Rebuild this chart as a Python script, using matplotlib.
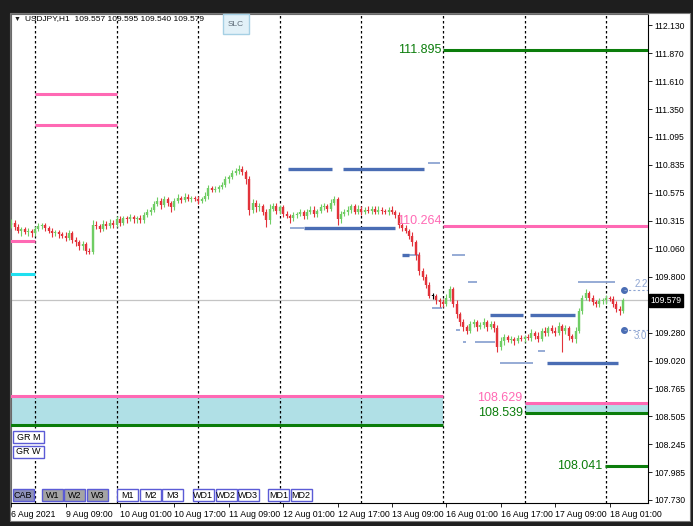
"""
USDJPY H1 - copia do grafico do MT4 (6 Aug 2021 -> 18 Aug 2021)
"""
import numpy as np
import matplotlib.pyplot as plt
from matplotlib.patches import Rectangle

plt.rcParams['font.family'] = ['Liberation Sans', 'DejaVu Sans']

W, H = 693, 526   # tamanho da figura em px

# ============ DADOS ============
first_open = 110.28
closes = [
    110.30, 110.26, 110.22, 110.24, 110.21, 110.22, 110.20, 110.24, 110.27, 110.28,
    110.25, 110.22, 110.20, 110.21, 110.19, 110.18, 110.16, 110.20, 110.14, 110.12,
    110.08, 110.10, 110.04, 110.03, 110.28, 110.27, 110.24, 110.29, 110.27, 110.30,
    110.28, 110.33, 110.30, 110.34, 110.33, 110.35, 110.33, 110.34, 110.32, 110.37,
    110.40, 110.42, 110.47, 110.50, 110.46, 110.52, 110.48, 110.44, 110.50, 110.53,
    110.51, 110.54, 110.52, 110.53, 110.52, 110.50, 110.52, 110.55, 110.62, 110.60,
    110.61, 110.63, 110.65, 110.70, 110.72, 110.76, 110.78, 110.80, 110.77, 110.70,
    110.42, 110.48, 110.44, 110.45, 110.40, 110.32, 110.43, 110.45, 110.41, 110.44,
    110.38, 110.36, 110.34, 110.37, 110.38, 110.40, 110.36, 110.40, 110.42, 110.38,
    110.41, 110.44, 110.45, 110.43, 110.48, 110.52, 110.33, 110.38, 110.40, 110.42,
    110.45, 110.40, 110.43, 110.40, 110.42, 110.41, 110.43, 110.40, 110.42, 110.41,
    110.40, 110.42, 110.40, 110.37, 110.28, 110.25, 110.22, 110.18, 110.12, 110.00,
    109.85, 109.80, 109.72, 109.62, 109.62, 109.58, 109.56, 109.55, 109.60, 109.68,
    109.55, 109.45, 109.38, 109.33, 109.30, 109.36, 109.38, 109.33, 109.35, 109.38,
    109.33, 109.36, 109.32, 109.15, 109.20, 109.24, 109.21, 109.22, 109.20, 109.23,
    109.22, 109.24, 109.23, 109.28, 109.25, 109.22, 109.30, 109.28, 109.32, 109.30,
    109.28, 109.34, 109.30, 109.32, 109.25, 109.22, 109.30, 109.48, 109.60, 109.65,
    109.60, 109.56, 109.55, 109.57, 109.58, 109.60, 109.59, 109.55, 109.50, 109.48,
    109.579,
]
# pavios em pips (0.01)
wick_up = [
    3, 2, 3, 2, 2, 3, 2, 3, 3, 2,   2, 2, 3, 2, 2, 2, 3, 3, 2, 3,
    2, 3, 2, 2, 4, 3, 2, 3, 2, 3,   2, 3, 3, 2, 2, 3, 2, 2, 3, 3,
    3, 2, 3, 4, 3, 3, 2, 2, 3, 3,   2, 3, 2, 2, 2, 3, 2, 3, 3, 2,
    3, 2, 3, 3, 2, 3, 3, 3, 2, 2,   3, 4, 3, 3, 2, 3, 4, 3, 3, 2,
    2, 3, 2, 3, 2, 3, 2, 3, 3, 3,   2, 3, 3, 2, 4, 3, 2, 3, 3, 3,
    2, 2, 3, 2, 2, 3, 2, 2, 3, 2,   2, 2, 3, 2, 3, 2, 3, 2, 3, 2,
    3, 3, 2, 3, 3, 2, 2, 3, 4, 3,   2, 3, 2, 3, 2, 3, 3, 2, 3, 4,
    2, 3, 3, 3, 4, 3, 2, 3, 2, 3,   3, 2, 3, 3, 2, 4, 2, 3, 2, 3,
    3, 4, 2, 3, 2, 2, 3, 3, 3, 3,   2, 3, 2, 3, 2, 3, 2, 3, 2, 3, 2,
]
wick_dn = [
    3, 3, 2, 4, 2, 3, 3, 2, 2, 3,   3, 2, 3, 2, 3, 2, 3, 2, 3, 4,
    3, 3, 3, 2, 2, 3, 3, 2, 3, 2,   3, 2, 3, 2, 3, 2, 3, 3, 2, 2,
    2, 3, 2, 2, 3, 2, 3, 4, 2, 2,   3, 2, 2, 3, 2, 3, 2, 2, 3, 2,
    2, 3, 2, 2, 3, 2, 2, 3, 3, 4,   5, 3, 4, 3, 3, 6, 3, 2, 3, 3,
    3, 2, 4, 3, 3, 2, 3, 3, 2, 3,   3, 2, 2, 3, 2, 2, 5, 3, 2, 3,
    3, 2, 2, 3, 2, 2, 3, 2, 2, 3,   2, 3, 2, 3, 3, 3, 2, 3, 4, 5,
    4, 3, 3, 2, 3, 3, 4, 3, 2, 3,   3, 3, 4, 3, 3, 2, 3, 3, 2, 3,
    3, 2, 3, 5, 3, 3, 2, 3, 3, 2,   2, 3, 2, 3, 3, 3, 2, 3, 3, 2,
    3, 2, 20, 3, 4, 3, 4, 2, 3, 2,  3, 2, 3, 3, 2, 3, 2, 3, 3, 4, 2,
]
last_price = 109.579

price_ticks = [112.130, 111.870, 111.610, 111.350, 111.095, 110.835, 110.575,
               110.315, 110.060, 109.800, 109.540, 109.280, 109.020, 108.765,
               108.505, 108.245, 107.985, 107.730]
time_ticks = [0, 16, 32, 48, 64, 80, 96, 112, 128, 144, 160, 176]
time_labels = ['6 Aug 2021', '9 Aug 09:00', '10 Aug 01:00', '10 Aug 17:00',
               '11 Aug 09:00', '12 Aug 01:00', '12 Aug 17:00', '13 Aug 09:00',
               '16 Aug 01:00', '16 Aug 17:00', '17 Aug 09:00', '18 Aug 01:00']
day_breaks = [7, 31, 55, 79, 103, 127, 151, 175]

# niveis: (preco, barra inicial, barra final)
pink_levels = [(111.491, 7, 31), (111.204, 7, 31), (110.129, -1, 7),
               (110.264, 127, 190), (108.693, -1, 127), (108.629, 151, 190)]
green_levels = [(111.895, 127, 190), (108.425, -1, 127), (108.539, 151, 190),
                (108.041, 174.5, 190)]
cyan_levels = [(109.823, -1, 7)]
zones = [(108.425, 108.693, -1, 127), (108.539, 108.629, 151, 190)]
level_labels = [('111.895', 111.895, 126.4, 'center', 'g'),
                ('110.264', 110.258, 126.6, 'bottom', 'p'),
                ('108.629', 108.622, 150.4, 'bottom', 'p'),
                ('108.539', 108.539, 150.4, 'center', 'g'),
                ('108.041', 108.041, 173.8, 'center', 'g')]
blue_dark = [(110.796, 81.4, 94.4), (110.796, 97.6, 121.4), (110.249, 86, 113),
             (110.000, 115, 117), (109.440, 140.8, 150.5), (109.440, 152.6, 165.8),
             (109.000, 157.6, 178.5)]
blue_light = [(110.852, 122.6, 126.1), (110.249, 82, 86), (110.000, 117, 120),
              (110.000, 129.7, 133.5), (109.750, 134.4, 137), (109.510, 123.8, 126.7),
              (109.750, 166.7, 177.6), (109.194, 136.4, 142.3), (109.110, 154.9, 157),
              (109.000, 143.8, 153.5), (109.305, 130.8, 132), (109.194, 132.9, 133.8)]
markers = [('2.2', 109.675, 'bottom'), ('3.0', 109.305, 'top')]
marker_bar = 180.2
# ===============================

PINK, GREEN, CYAN = '#ff69b4', '#0b7d0b', '#1fe0f0'
BLUE, BLUE_L = '#4a6db4', '#8ea5d2'
C_UP, C_DN = '#6fcd64', '#e2323a'

fig = plt.figure(figsize=(W / 100, H / 100), dpi=100, facecolor='#1e1e1e')
# janela branca do grafico
fig.add_artist(Rectangle((10 / W, 1 - 521 / H), 680 / W, 508 / H,
                         transform=fig.transFigure, facecolor='white',
                         edgecolor='#7a7a7a', lw=0.8, zorder=-1))
ax = fig.add_axes([11 / W, 1 - 503 / H, 637 / W, 489 / H])
ax.set_xlim(-0.06, 187.29)
ax.set_ylim(107.702, 112.232)

# candles
x = np.arange(len(closes))
c = np.array(closes)
o = np.r_[first_open, c[:-1]]
hi = np.maximum(o, c) + np.array(wick_up) / 100
lo = np.minimum(o, c) - np.array(wick_dn) / 100
cols = np.where(c > o, C_UP, np.where(c < o, C_DN, 'black'))
ax.vlines(x, lo, hi, colors=cols, lw=0.8, zorder=4)
b_lo = np.minimum(o, c)
b_hi = np.maximum(np.maximum(o, c), b_lo + 0.006)
ax.vlines(x, b_lo, b_hi, colors=cols, lw=1.7, zorder=4)

# linha do preco atual
ax.axhline(last_price, color='#c4c4c4', lw=0.9, zorder=1)

# separadores de dia
for d in day_breaks:
    ax.axvline(d, color='black', lw=0.9, ls=(0, (2, 2)), zorder=2)

# zonas e niveis
for y0, y1, a, b in zones:
    ax.fill_between([a, b], y0, y1, color='#b0e0e6', lw=0, zorder=1)
for p, a, b in pink_levels:
    ax.hlines(p, a, b, color=PINK, lw=2.2, zorder=3)
for p, a, b in green_levels:
    ax.hlines(p, a, b, color=GREEN, lw=2.2, zorder=3)
for p, a, b in cyan_levels:
    ax.hlines(p, a, b, color=CYAN, lw=2.2, zorder=3)
for p, a, b in blue_light:
    ax.hlines(p, a, b, color=BLUE_L, lw=1.3, zorder=3)
for p, a, b in blue_dark:
    ax.hlines(p, a, b, color=BLUE, lw=2.4, zorder=3)
for txt, p, xb, va, k in level_labels:
    ax.text(xb, p, txt, ha='right', va=va, fontsize=9,
            color=GREEN if k == 'g' else PINK, zorder=5)

for txt, p, va in markers:
    ax.plot(marker_bar, p, 'o', ms=4, color=BLUE, zorder=5)
    ax.hlines(p, marker_bar, 190, color=BLUE_L, lw=0.8, ls=(0, (2, 2)), zorder=5)
    ax.text(183.2, p + (0.008 if va == 'bottom' else -0.008), txt, va=va,
            ha='left', fontsize=7, color=BLUE_L, zorder=5)

# eixos
for s in ['left', 'top']:
    ax.spines[s].set_color('#6a6a6a')
for s in ['right', 'bottom']:
    ax.spines[s].set_color('black')
ax.yaxis.tick_right()
ax.set_yticks(price_ticks)
# o rotulo 109.540 fica escondido atras da caixa do preco atual
ax.set_yticklabels(['' if abs(v - last_price) < 0.05 else f'{v:.3f}'
                    for v in price_ticks])
ax.tick_params(axis='y', length=3, width=0.6, labelsize=6.2, pad=1.5)
ax.set_xticks(time_ticks)
ax.set_xticklabels(time_labels, ha='left')
ax.tick_params(axis='x', length=3, width=0.6, labelsize=6.3, pad=2)
ax.text(1.004, last_price, f'{last_price:.3f}', transform=ax.get_yaxis_transform(),
        ha='left', va='center', fontsize=6.2, color='white', zorder=10,
        bbox=dict(facecolor='black', edgecolor='black', pad=1.2), clip_on=False)

# cabecalho
fig.text(14 / W, 1 - 19 / H, '\u25bc', fontsize=5, va='center', color='#202020')
fig.text(25 / W, 1 - 19 / H, 'USDJPY,H1  109.557 109.595 109.540 109.579',
         fontsize=6, va='center', color='black')


def button(x0, y0, w, h, label, face, edge='#5b5bd6', tc='black', fs=6.5):
    fig.add_artist(Rectangle((x0 / W, 1 - (y0 + h) / H), w / W, h / H,
                             transform=fig.transFigure, facecolor=face,
                             edgecolor=edge, lw=1, zorder=6))
    fig.text((x0 + w / 2) / W, 1 - (y0 + h / 2) / H, label, ha='center',
             va='center', fontsize=fs, color=tc, zorder=7)


button(223, 14, 26, 20, 'SLC', '#e2f1f8', edge='#a6d0e4', tc='#5d6b78', fs=6)
button(13, 431, 31, 12, 'GR M', 'white')
button(13, 446, 31, 12, 'GR W', 'white')
row = [('CAB', 13, '#8d90b8'), ('W1', 42, '#a4a4a4'), ('W2', 64, '#a4a4a4'),
       ('W3', 87, '#a4a4a4'), ('M1', 117, 'white'), ('M2', 140, 'white'),
       ('M3', 162, 'white'), ('WD1', 193, 'white'), ('WD2', 216, 'white'),
       ('WD3', 238, 'white'), ('MD1', 268, 'white'), ('MD2', 291, 'white')]
for lab, x0, face in row:
    button(x0, 489, 20.5, 12, lab, face)

fig.savefig('out.png', dpi=100, facecolor=fig.get_facecolor())
